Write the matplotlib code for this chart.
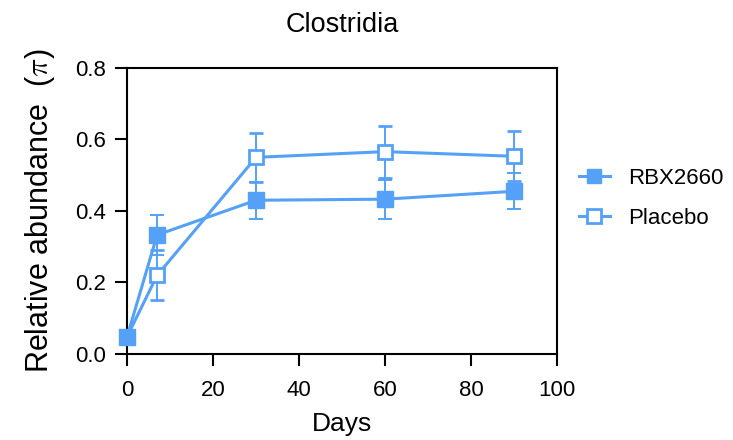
import numpy as np
import matplotlib.pyplot as plt
from matplotlib.lines import Line2D

# %% Style
BLUE = "#55A1F7"
plt.rcParams.update(
    {
        "font.family": ["Liberation Sans", "DejaVu Sans"],
        "font.size": 16,
        "mathtext.fontset": "cm",
        "axes.linewidth": 1.5,
        "xtick.major.width": 1.5,
        "ytick.major.width": 1.5,
        "xtick.major.size": 8.5,
        "ytick.major.size": 8.5,
        "xtick.major.pad": 10,
        "ytick.major.pad": 7,
        "xtick.labelsize": 16,
        "ytick.labelsize": 16,
    }
)

# %% Data
days = [0, 7, 30, 60, 90]
rbx_mean = [0.048, 0.333, 0.430, 0.433, 0.455]
rbx_err = [0.008, 0.055, 0.052, 0.055, 0.050]
placebo_mean = [0.048, 0.220, 0.550, 0.566, 0.553]
placebo_err = [0.008, 0.070, 0.068, 0.073, 0.070]

xticks = [0, 20, 40, 60, 80, 100]
yticks = [0.0, 0.2, 0.4, 0.6, 0.8]

# %% Plot
fig = plt.figure(figsize=(7.33, 4.4), dpi=100)
ax = fig.add_axes([0.1733, 0.1955, 0.5866, 0.65])

pl = ax.errorbar(days, placebo_mean, yerr=placebo_err, color=BLUE, marker="s",
                 markersize=10.5, markerfacecolor="white", markeredgewidth=2,
                 linewidth=2.2, elinewidth=1.4, capsize=5, capthick=1.4,
                 zorder=3)
rb = ax.errorbar(days, rbx_mean, yerr=rbx_err, color=BLUE, marker="s",
                 markersize=11, linewidth=2.2, elinewidth=1.4, capsize=5,
                 capthick=1.4, zorder=4)
for cont in (pl, rb):
    for art in cont.get_children():
        art.set_clip_on(False)

ax.set_xlim(0, 100)
ax.set_ylim(0, 0.8)
ax.set_xticks(xticks)
ax.set_yticks(yticks)
ax.set_yticklabels([f"{v:.1f}" for v in yticks])
ax.set_xlabel("Days", fontsize=19, labelpad=8)
ax.set_ylabel(r"Relative abundance  ($\pi$)", fontsize=22, labelpad=13)
ax.set_title("Clostridia", fontsize=19.5, pad=26)

handles = [
    Line2D([], [], color=BLUE, marker="s", markersize=9.5, linewidth=2.2),
    Line2D([], [], color=BLUE, marker="s", markersize=9.5, linewidth=2.2,
           markerfacecolor="white", markeredgewidth=2),
]
ax.legend(handles, ["RBX2660", "Placebo"], loc="center left",
          bbox_to_anchor=(1.03, 0.545), borderaxespad=0, frameon=False,
          fontsize=16, handlelength=1.4, handletextpad=0.8, labelspacing=0.85)

fig.savefig("out.png", dpi=100)
